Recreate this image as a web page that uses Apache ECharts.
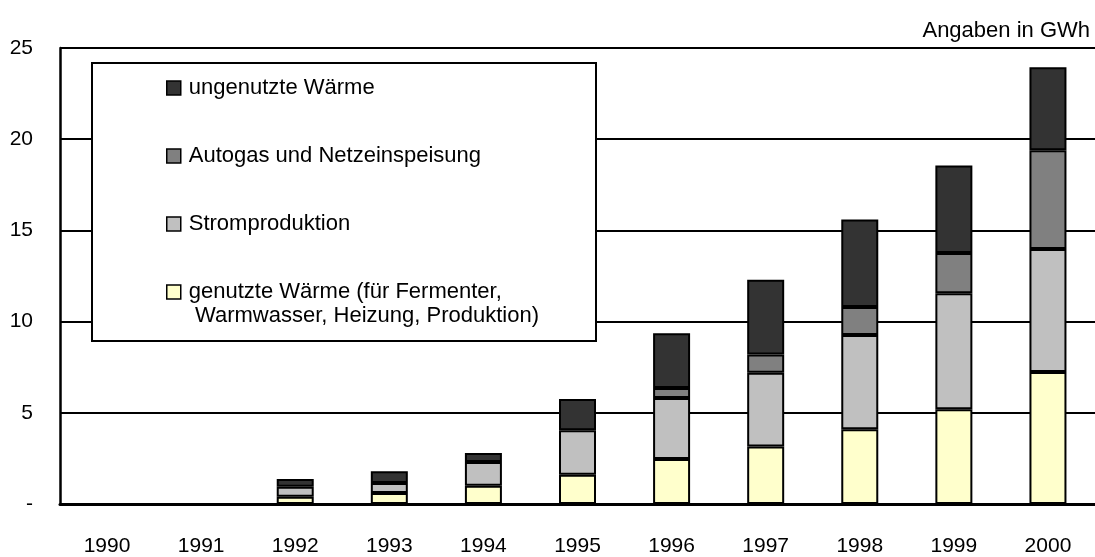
<!DOCTYPE html>
<html>
<head>
<meta charset="utf-8">
<script src="https://cdn.jsdelivr.net/npm/echarts@6/dist/echarts.min.js"></script>
<style>
  html, body { margin: 0; padding: 0; background: #ffffff; }
  #chart { width: 1095px; height: 557px; }
</style>
</head>
<body>
<div id="chart"></div>
<script>
// Jahre (Kategorien)
const years = ['1990', '1991', '1992', '1993', '1994', '1995', '1996', '1997', '1998', '1999', '2000'];

// Energiemengen je Nutzungsart in GWh
const genutzteWaerme   = [0, 0, 0.40, 0.60, 1.00, 1.60, 2.47, 3.15, 4.10, 5.20, 7.24];
const stromproduktion  = [0, 0, 0.55, 0.55, 1.30, 2.45, 3.34, 4.05, 5.17, 6.36, 6.74];
const autogasNetz      = [0, 0, 0,    0,    0,    0,    0.55, 1.00, 1.53, 2.20, 5.42];
const ungenutzteWaerme = [0, 0, 0.42, 0.65, 0.50, 1.70, 3.00, 4.10, 4.80, 4.80, 4.55];

// Beschriftung der Werteachse
const yTickLabels = ['-', '5', '10', '15', '20', '25'];

const seriesNames = {
  genutzt: 'genutzte Wärme (für Fermenter, Warmwasser, Heizung, Produktion)',
  strom: 'Stromproduktion',
  autogas: 'Autogas und Netzeinspeisung',
  ungenutzt: 'ungenutzte Wärme'
};

const FONT = "'Liberation Sans', Arial, sans-serif";

function barSeries(name, values, color) {
  return {
    name: name,
    type: 'bar',
    stack: 'gesamt',
    barWidth: 37,
    data: values.map(v => (v === 0 ? '-' : v)),
    itemStyle: { color: color, borderColor: '#000000', borderWidth: 2 },
    emphasis: { disabled: true }
  };
}

const chart = echarts.init(document.getElementById('chart'), null, { renderer: 'canvas' });

chart.setOption({
  animation: false,
  backgroundColor: '#ffffff',
  textStyle: { fontFamily: FONT },
  grid: { left: 60, top: 48, width: 1040, height: 456, containLabel: false },
  xAxis: {
    type: 'category',
    data: years,
    axisLine: { lineStyle: { color: '#000000', width: 3 } },
    axisTick: { show: false },
    axisLabel: { color: '#000000', fontSize: 21, fontFamily: FONT, margin: 32 }
  },
  yAxis: {
    type: 'value',
    min: 0,
    max: 25,
    interval: 5,
    axisLine: { show: true, lineStyle: { color: '#000000', width: 2.5 } },
    axisTick: { show: false },
    splitLine: { lineStyle: { color: '#000000', width: 2 } },
    axisLabel: {
      color: '#000000',
      fontSize: 21,
      fontFamily: FONT,
      margin: 27,
      formatter: (v, i) => yTickLabels[i]
    }
  },
  legend: {
    orient: 'vertical',
    left: 166,
    top: 77,
    padding: 0,
    itemGap: 46,
    itemWidth: 14,
    itemHeight: 14,
    icon: 'rect',
    z: 5,
    selectedMode: false,
    data: [seriesNames.ungenutzt, seriesNames.autogas, seriesNames.strom, seriesNames.genutzt],
    itemStyle: { borderColor: '#000000', borderWidth: 1.5 },
    textStyle: { color: '#000000', fontSize: 22, fontFamily: FONT, padding: [0, 0, 0, 3] },
    formatter: name => (name === seriesNames.genutzt ? 'genutzte Wärme (für Fermenter,' : name)
  },
  graphic: [
    {
      type: 'rect',
      z: 3,
      shape: { x: 92, y: 63, width: 504, height: 278 },
      style: { fill: '#ffffff', stroke: '#000000', lineWidth: 2 }
    },
    {
      type: 'text',
      z: 6,
      style: {
        x: 195, y: 316,
        text: 'Warmwasser, Heizung, Produktion)',
        font: '22px ' + FONT,
        fill: '#000000',
        textAlign: 'left',
        textVerticalAlign: 'middle'
      }
    },
    {
      type: 'text',
      z: 6,
      style: {
        x: 1090, y: 31,
        text: 'Angaben in GWh',
        font: '22px ' + FONT,
        fill: '#000000',
        textAlign: 'right',
        textVerticalAlign: 'middle'
      }
    }
  ],
  series: [
    barSeries(seriesNames.genutzt, genutzteWaerme, '#FFFFCC'),
    barSeries(seriesNames.strom, stromproduktion, '#C0C0C0'),
    barSeries(seriesNames.autogas, autogasNetz, '#808080'),
    barSeries(seriesNames.ungenutzt, ungenutzteWaerme, '#333333')
  ]
});
</script>
</body>
</html>
